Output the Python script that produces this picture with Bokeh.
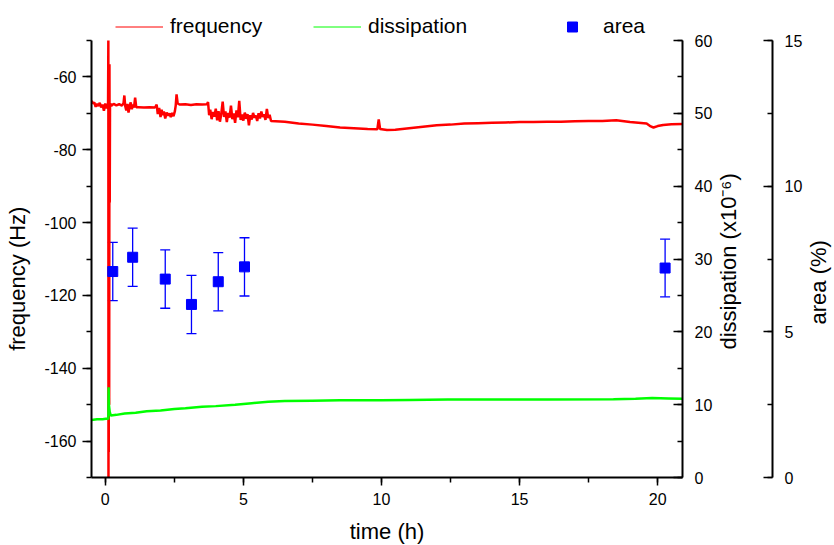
import math
from bokeh.plotting import figure
from bokeh.models import (Range1d, LinearAxis, SingleIntervalTicker, FixedTicker, Legend,
                          LegendItem, ColumnDataSource, Whisker, TeeHead, PrintfTickFormatter)
from bokeh.embed import file_html
from bokeh.resources import INLINE

# ---------------- data ----------------
freq_time = [-0.50, -0.45, -0.40, -0.35, -0.30, -0.25, -0.20, -0.15, -0.10, -0.05, 0.00, 0.05, 0.09,
             0.10, 0.11, 0.115, 0.12, 0.125, 0.13, 0.14, 0.15, 0.16, 0.17, 0.18,
             0.22, 0.30, 0.40, 0.50, 0.60, 0.66, 0.69, 0.72, 0.76, 0.80, 0.84, 0.88, 0.92, 0.96, 1.00,
             1.04, 1.08, 1.12, 1.20, 1.40, 1.60, 1.80,
             1.86, 1.90, 1.95, 2.00, 2.04, 2.08, 2.12, 2.17, 2.22, 2.27, 2.32, 2.37, 2.42, 2.47, 2.52, 2.55,
             2.58, 2.62, 2.70, 2.90, 3.10, 3.30, 3.50, 3.68,
             3.72, 3.76, 3.80, 3.85, 3.90, 3.95, 4.00, 4.05, 4.10, 4.15, 4.20, 4.25, 4.30, 4.35, 4.40,
             4.45, 4.50, 4.55, 4.60, 4.65, 4.70, 4.75, 4.80, 4.85, 4.90, 4.95, 5.00, 5.05, 5.10, 5.15,
             5.20, 5.25, 5.30, 5.35, 5.40, 5.45, 5.50, 5.55, 5.60, 5.65, 5.70, 5.75, 5.80, 5.85, 5.90, 5.95,
             6.00, 6.50, 7.00, 7.50, 8.00, 8.50, 9.00, 9.50, 9.85, 9.90, 9.95, 10.2, 10.5, 11.0, 11.5,
             12.0, 12.5, 13.0, 13.5, 14.0, 14.5, 15.0, 15.5, 16.0, 16.5, 17.0, 17.5, 18.0, 18.5, 19.0,
             19.3, 19.6, 19.75, 19.85, 20.0, 20.2, 20.5, 20.9]
frequency = [-66.6, -67.3, -67.0, -68.2, -67.4, -68.0, -67.1, -68.4, -67.6, -69.3, -67.3, -68.6, -67.8,
             -67.5, -50.0, -172.0, -66.0, -163.0, -67.0, -150.0, -56.5, -94.5, -68.0, -67.3,
             -67.9, -67.4, -67.8, -67.5, -67.9, -67.2, -65.1, -68.0, -69.2, -67.4, -69.8, -68.1, -67.0, -68.9, -67.6,
             -68.4, -65.7, -68.3, -68.3, -68.4, -68.3, -68.4,
             -67.6, -70.2, -68.5, -71.0, -69.0, -70.5, -69.5, -71.4, -69.8, -70.6, -70.0, -71.0, -69.9, -70.8, -69.4, -67.8,
             -64.8, -67.3, -67.6, -67.5, -67.7, -67.5, -67.6, -67.5,
             -66.9, -70.5, -69.0, -71.6, -69.6, -70.9, -68.7, -71.9, -69.4, -72.3, -70.1, -66.8, -71.0, -69.5, -72.4,
             -69.9, -71.2, -67.9, -71.6, -70.0, -72.6, -69.2, -71.1, -66.6, -71.8, -70.3, -72.0, -69.8, -71.5, -70.2,
             -73.3, -70.5, -71.7, -69.9, -71.2, -70.6, -72.1, -70.0, -71.4, -69.5, -71.0, -70.3, -71.8, -68.8, -71.3, -70.4,
             -72.1, -72.3, -72.8, -73.1, -73.5, -73.9, -74.1, -74.3, -74.4, -71.7, -74.3, -74.6, -74.5, -74.1, -73.7,
             -73.3, -73.1, -72.8, -72.7, -72.6, -72.5, -72.4, -72.4, -72.3, -72.3, -72.2, -72.1, -72.1, -71.9, -72.4,
             -72.6, -72.8, -73.6, -73.9, -73.5, -73.2, -73.0, -72.9]

diss_time = [-0.50, -0.30, -0.10, 0.08, 0.11, 0.12, 0.13, 0.16, 0.20, 0.40, 0.70, 1.10, 1.50, 2.00,
             2.50, 2.90, 3.50, 4.00, 4.70, 5.30, 5.90, 6.50, 7.50, 8.50, 10.0, 11.0, 12.4, 14.0,
             16.0, 18.4, 19.2, 19.8, 20.4, 20.9]
dissipation = [7.9, 8.0, 8.0, 8.1, 8.0, 12.4, 10.0, 9.0, 8.5, 8.6, 8.8, 8.9, 9.1, 9.2,
               9.4, 9.5, 9.7, 9.8, 10.0, 10.2, 10.4, 10.5, 10.55, 10.6, 10.6, 10.65, 10.7, 10.7,
               10.7, 10.75, 10.8, 10.9, 10.85, 10.8]

area_time = [0.27, 0.99, 2.17, 3.12, 4.09, 5.04, 20.27]
area = [7.07, 7.56, 6.81, 5.94, 6.72, 7.23, 7.19]
area_err = [1.0, 1.0, 1.0, 1.0, 1.0, 1.0, 0.99]

legend_labels = ["frequency", "dissipation", "area"]
axis_titles = ["time (h)", "frequency (Hz)", "dissipation (x10\u207b\u2076)", "area (%)"]

FONT = "Liberation Sans"
NBSP = "\u00a0"  # trailing no-break spaces shift the centred rotated title down along its axis

# axis spans; the frame reaches 40 px above the axes' top so the legend can sit in it
AXIS_H = 437
TOP_PAD = 40
FRAME_H = AXIS_H + TOP_PAD
f_lo, f_hi = -170, -50
d_lo, d_hi = 0, 60
a_lo, a_hi = 0, 15

# where (px above the frame bottom) the right-hand rotated titles start
DISS_TITLE_PX = 128
AREA_TITLE_PX = 153


def ext(lo, hi):
    return hi + (hi - lo) * TOP_PAD / AXIS_H


p = figure(frame_width=591, frame_height=FRAME_H,
           x_range=Range1d(-0.5, 20.9), y_range=Range1d(f_lo, ext(f_lo, f_hi)),
           output_backend="svg", toolbar_location=None,
           min_border_left=91, min_border_top=0, min_border_bottom=68, min_border_right=0,
           outline_line_color=None, background_fill_color="white", border_fill_color="white")
p.grid.visible = False
p.extra_y_ranges = {"diss": Range1d(d_lo, ext(d_lo, d_hi)), "area": Range1d(a_lo, ext(a_lo, a_hi)),
                    "px": Range1d(0, FRAME_H)}


def style(ax, tin, tout, min_in, min_out):
    ax.axis_line_width = 2
    ax.axis_line_color = "black"
    ax.major_tick_line_width = 1.5
    ax.minor_tick_line_width = 1.5
    ax.major_tick_line_color = "black"
    ax.minor_tick_line_color = "black"
    ax.major_tick_in = tin
    ax.major_tick_out = tout
    ax.minor_tick_in = min_in
    ax.minor_tick_out = min_out
    ax.major_label_text_font = FONT
    ax.major_label_text_font_size = "16px"
    ax.major_label_text_color = "black"
    ax.axis_label_text_font = FONT
    ax.axis_label_text_font_size = "22px"
    ax.axis_label_text_font_style = "normal"
    ax.axis_label_text_color = "black"


def title_axis(text, pos, standoff):
    """A bare axis whose single rotated tick label serves as the axis title."""
    return LinearAxis(y_range_name="px", ticker=FixedTicker(ticks=[pos], minor_ticks=[]),
                      major_label_overrides={pos: text}, major_label_orientation=math.pi / 2,
                      major_label_text_font=FONT, major_label_text_font_size="22px",
                      major_label_text_color="black", major_label_standoff=standoff,
                      axis_line_color=None, major_tick_line_color=None, minor_tick_line_color=None,
                      major_tick_in=0, major_tick_out=0, minor_tick_in=0, minor_tick_out=0)


xa = p.xaxis[0]
xa.ticker = SingleIntervalTicker(interval=5, num_minor_ticks=2)
xa.axis_label = axis_titles[0]
style(xa, 0, 8, 0, 5)
xa.major_label_standoff = 7
xa.axis_label_standoff = 11

ya = p.yaxis[0]
ya.ticker = SingleIntervalTicker(interval=20, num_minor_ticks=2)
ya.formatter = PrintfTickFormatter(format="%d")
ya.bounds = (f_lo, f_hi)
ya.axis_label = axis_titles[1] + NBSP * 13
style(ya, 0, 9, 0, 5)
ya.major_label_standoff = 6
ya.axis_label_standoff = 11

ax_d = LinearAxis(y_range_name="diss", ticker=SingleIntervalTicker(interval=10, num_minor_ticks=2),
                  bounds=(d_lo, d_hi))
style(ax_d, 9, 0, 5, 0)
ax_d.major_label_standoff = 12

t_d = title_axis(axis_titles[2], DISS_TITLE_PX, 13)

spacer = LinearAxis(y_range_name="px", ticker=FixedTicker(ticks=[]), axis_line_color=None,
                    major_tick_line_color=None, minor_tick_line_color=None,
                    major_tick_in=0, major_tick_out=0, minor_tick_in=0, minor_tick_out=0,
                    major_label_standoff=0, major_label_text_font_size="0px",
                    axis_label=" ", axis_label_standoff=12, axis_label_text_font_size="1px")

ax_a = LinearAxis(y_range_name="area", ticker=SingleIntervalTicker(interval=5, num_minor_ticks=2),
                  bounds=(a_lo, a_hi))
style(ax_a, 9, 0, 5, 0)
ax_a.major_label_standoff = 12

t_a = title_axis(axis_titles[3], AREA_TITLE_PX, 13)

for ax in (ax_d, t_d, spacer, ax_a, t_a):
    p.add_layout(ax, "right")

# ---------------- glyphs ----------------
p.line(freq_time, frequency, line_color="#ff0000", line_width=2.5)
p.line(diss_time, dissipation, line_color="#00ff00", line_width=2.5, y_range_name="diss")

lo = [a - e for a, e in zip(area, area_err)]
hi = [a + e for a, e in zip(area, area_err)]
src = ColumnDataSource(dict(t=area_time, a=area, lo=lo, hi=hi))
wh = Whisker(source=src, base="t", upper="hi", lower="lo", y_range_name="area",
             line_color="#0000ff", line_width=1.3,
             upper_head=TeeHead(size=10, line_color="#0000ff", line_width=1.3),
             lower_head=TeeHead(size=10, line_color="#0000ff", line_width=1.3))
p.add_layout(wh)
p.scatter("t", "a", source=src, marker="square", size=10, fill_color="#0000ff",
          line_color="#0000ff", y_range_name="area")

# legend-only renderers (a single missing point: nothing drawn in the plot)
nan = float("nan")
lf = p.line([nan], [nan], line_color="#ff0000", line_width=1)
ld = p.line([nan], [nan], line_color="#00ff00", line_width=1)
la = p.scatter([nan], [nan], marker="square", size=10, fill_color="#0000ff", line_color="#0000ff")

LEG_H = 25
leg_y = FRAME_H - 13.5 - LEG_H


def make_legend(label, r, x):
    leg = Legend(items=[LegendItem(label=label, renderers=[r], index=0)], location=(x, leg_y),
                 orientation="horizontal", padding=0, margin=0, spacing=0,
                 glyph_width=48, glyph_height=LEG_H, label_height=LEG_H, label_standoff=7,
                 border_line_color=None, background_fill_alpha=0,
                 label_text_font=FONT, label_text_font_size="21px", label_text_color="black")
    p.add_layout(leg)


make_legend(legend_labels[0], lf, 24)
make_legend(legend_labels[1], ld, 222)
make_legend(legend_labels[2], la, 457)

open("out.html", "w").write(file_html(p, INLINE))
